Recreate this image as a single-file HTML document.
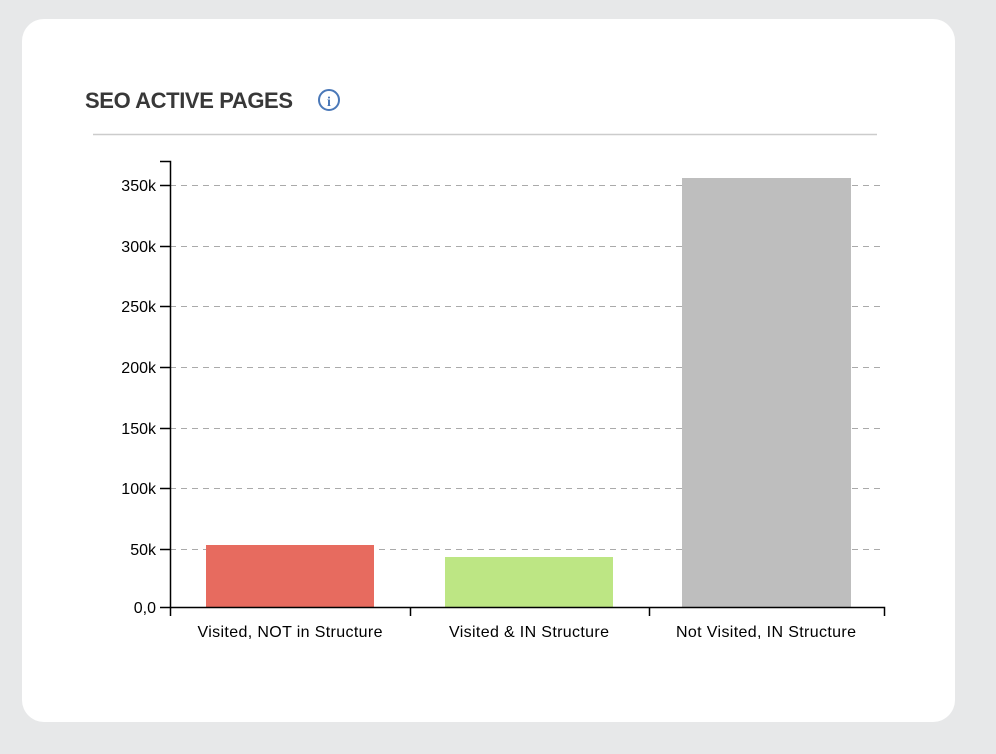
<!DOCTYPE html>
<html><head><meta charset="utf-8"><style>
html,body{margin:0;padding:0;background:#e7e8e9;width:996px;height:754px;overflow:hidden}
.card{position:absolute;left:22px;top:19px;width:933px;height:703px;background:#fff;border-radius:22px}
svg{position:absolute;left:0;top:0}
</style></head><body>
<div class="card"></div>
<svg width="996" height="754" font-family="Liberation Sans, sans-serif">
<text x="85" y="108" font-size="22" font-weight="bold" fill="#383838" textLength="208">SEO ACTIVE PAGES</text>
<circle cx="329" cy="100" r="10" fill="none" stroke="#4a78b8" stroke-width="2"/>
<text x="329" y="106" font-size="14" font-weight="bold" fill="#4a78b8" text-anchor="middle" font-family="Liberation Serif, serif">i</text>
<line x1="93" y1="134.5" x2="877" y2="134.5" stroke="#ccc" stroke-width="1.5"/>
<g stroke="#aaa" stroke-dasharray="6,5" stroke-width="1">
<line x1="170" y1="185.5" x2="884" y2="185.5"/>
<line x1="170" y1="246.5" x2="884" y2="246.5"/>
<line x1="170" y1="306.5" x2="884" y2="306.5"/>
<line x1="170" y1="367.5" x2="884" y2="367.5"/>
<line x1="170" y1="428.5" x2="884" y2="428.5"/>
<line x1="170" y1="488.5" x2="884" y2="488.5"/>
<line x1="170" y1="549.5" x2="884" y2="549.5"/>
</g>
<rect x="206" y="545" width="168" height="62" fill="#e76b5f"/>
<rect x="445" y="557" width="168" height="50" fill="#bde684"/>
<rect x="682" y="178" width="169" height="429" fill="#bebebe"/>
<g stroke="#000" stroke-width="1.5" fill="none">
<path d="M160 161.5H170.5V607.5H160"/>
<path d="M170.5 616V607.5H884.5V616"/>
<path d="M410.5 607.5V616M649.5 607.5V616"/>
<path d="M160 185.5H170M160 246.5H170M160 306.5H170M160 367.5H170M160 428.5H170M160 488.5H170M160 549.5H170"/>
</g>
<g font-size="16" fill="#000" text-anchor="end">
<text x="156" y="191">350k</text>
<text x="156" y="252">300k</text>
<text x="156" y="312">250k</text>
<text x="156" y="373">200k</text>
<text x="156" y="434">150k</text>
<text x="156" y="494">100k</text>
<text x="156" y="555">50k</text>
<text x="156" y="613">0,0</text>
</g>
<g font-size="16" fill="#000" text-anchor="middle">
<text x="290" y="637" textLength="185">Visited, NOT in Structure</text>
<text x="529" y="637" textLength="160">Visited &amp; IN Structure</text>
<text x="766" y="637" textLength="180">Not Visited, IN Structure</text>
</g>
</svg>
</body></html>
